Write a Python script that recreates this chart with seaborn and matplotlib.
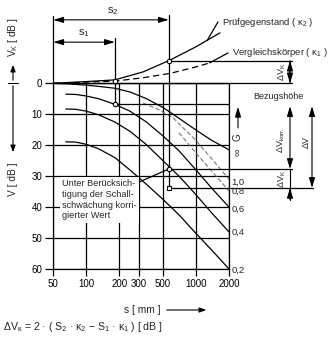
import numpy as np
import pandas as pd
import matplotlib
matplotlib.use("Agg")
import matplotlib.pyplot as plt
import seaborn as sns
from matplotlib.transforms import blended_transform_factory

# ---------------- data ----------------
x_ticks = [50, 100, 200, 300, 500, 1000, 2000]
y_ticks = [0, 10, 20, 30, 40, 50, 60]

# DGS curves V [dB] vs s [mm]
s_inf = [50, 70, 100, 130, 182, 250, 350, 500, 700, 1000, 1400, 2000]
v_inf = [0, 0.2, 0.6, 1.0, 1.6, 2.8, 4.9, 7.8, 11.3, 15.1, 18.5, 21.5]
s_g06 = [65, 80, 100, 130, 182, 250, 350, 500, 700, 1000, 1400, 2000]
v_g06 = [3.5, 3.6, 4.1, 5.0, 6.8, 9.0, 12.4, 17.0, 21.8, 28.0, 34.0, 40.0]
s_g04 = [65, 80, 100, 130, 182, 250, 350, 500, 700, 1000, 1400, 2000]
v_g04 = [8.3, 8.4, 9.0, 10.2, 12.5, 15.5, 19.7, 25.0, 30.0, 36.0, 42.0, 48.0]
s_g02 = [65, 80, 100, 130, 182, 250, 350, 500, 700, 1000, 1400, 2000]
v_g02 = [18.9, 19.0, 19.7, 21.2, 24.0, 28.0, 32.5, 37.5, 42.5, 48.5, 54.0, 60.0]
s_g10 = [330, 450, 620, 1000, 1400, 2000]
v_g10 = [6.4, 8.4, 11.2, 18.5, 24.5, 31.0]
s_g08 = [700, 1000, 1400, 2000]
v_g08 = [16.0, 22.5, 28.5, 34.8]

# transfer loss curves V_K (negative = upwards)
s_k2 = [50, 93, 182, 330, 580, 1000, 1655]
v_k2 = [0, -0.5, -1.1, -3.7, -7.5, -11.8, -16.3]
s_k1 = [50, 182, 330, 580, 1000, 1400]
v_k1 = [0, -0.7, -1.8, -3.2, -5.3, -6.8]

s1, s2 = 182, 564
v_ref = 6.8          # Bezugshöhe
v_k1_s1 = -0.7
v_k2_s2 = -7.3
v_korr = 27.7
v_meas = 33.8

g_labels = ["1,0", "0,8", "0,6", "0,4", "0,2"]
g_label_v = [31.9, 34.8, 40.6, 48.3, 60.3]

# ---------------- style ----------------
sns.set_theme(style="white")
plt.rcParams["font.family"] = ["Liberation Sans Narrow", "Liberation Sans", "DejaVu Sans"]
plt.rcParams["mathtext.fontset"] = "custom"
plt.rcParams["mathtext.rm"] = "Liberation Sans"
plt.rcParams["mathtext.it"] = "Liberation Sans"
plt.rcParams["mathtext.sf"] = "Liberation Sans"

W, H = 328, 348
fig = plt.figure(figsize=(W / 100, H / 100), dpi=100)
fig.patch.set_facecolor("white")
ax = fig.add_axes([53.3 / W, 1 - 269 / H, 175.7 / W, 185.7 / H])
ax.set_facecolor("white")

lw = 0.9
k = "black"

def curve(s, v, **kw):
    df = pd.DataFrame({"s": s, "v": v})
    sns.lineplot(data=df, x="s", y="v", ax=ax, estimator=None, sort=True,
                 clip_on=False, **kw)

curve(s_inf, v_inf, color=k, lw=lw)
curve(s_g06, v_g06, color=k, lw=lw)
curve(s_g04, v_g04, color=k, lw=lw)
curve(s_g02, v_g02, color=k, lw=lw)
curve(s_g10, v_g10, color="#777777", lw=0.8, linestyle=(0, (4, 2)))
curve(s_g08, v_g08, color="#777777", lw=0.8, linestyle=(0, (4, 2)))
curve(s_k2, v_k2, color=k, lw=lw)
curve(s_k1, v_k1, color=k, lw=lw, linestyle=(0, (5, 3)))

ax.set_xscale("log")
ax.set_xlim(50, 2000)
ax.set_ylim(60, 0)
ax.set_xticks(x_ticks)
ax.set_xticklabels([str(t) for t in x_ticks])
ax.xaxis.set_minor_locator(matplotlib.ticker.NullLocator())
ax.set_yticks(y_ticks)
ax.set_yticklabels([str(t) for t in y_ticks])
ax.set_xlabel("")
ax.set_ylabel("")
ax.grid(True, color=k, lw=lw)
for sp in ax.spines.values():
    sp.set_color(k)
    sp.set_linewidth(lw)
ax.tick_params(axis="x", length=5, width=lw, pad=2, labelsize=7, colors=k, direction="out", bottom=True)
ax.tick_params(axis="y", length=6, width=lw, pad=2, labelsize=7, colors=k, direction="out", left=True)

# --------- helpers ---------
bt = blended_transform_factory(ax.transAxes, ax.transData)
def fx(px):  # axes-fraction x from figure pixel
    return (px - 53.3) / 175.7
def fig_xy(px, py):
    return (px / W, 1 - py / H)

def line(xs, ys, tr=None, **kw):
    ax.plot(xs, ys, color=k, lw=lw, clip_on=False,
            transform=tr if tr is not None else ax.transData, **kw)

arrow_kw = dict(arrowstyle="-|>,head_length=0.5,head_width=0.15", color=k, lw=0.8,
                shrinkA=0, shrinkB=0)
arrow2_kw = dict(arrowstyle="<|-|>,head_length=0.5,head_width=0.15", color=k, lw=0.8,
                 shrinkA=0, shrinkB=0)

def arrow(p0, p1, tr, both=False):
    ax.annotate("", xy=p1, xytext=p0, xycoords=tr, textcoords=tr,
                arrowprops=arrow2_kw if both else arrow_kw, annotation_clip=False)

# extension of left axis upwards
line([50, 50], [-21.8, 0])
# s2 / s1 dimension lines
arrow((50, -20.5), (s2, -20.5), ax.transData, both=True)
arrow((50, -13.3), (s1, -13.3), ax.transData, both=True)
ax.text(175, -23.4, "s$_2$", ha="center", va="center", fontsize=8)
ax.text(95, -16.2, "s$_1$", ha="center", va="center", fontsize=8)
line([s2, s2], [-22.0, v_meas])
line([s1, s1], [-14.5, v_ref])

# horizontal reference lines
line([0, fx(292)], [0, 0], tr=bt)
line([s1, 2000], [v_ref, v_ref])
line([s2, 2000], [v_k2_s2, v_k2_s2])
ax.plot([1, fx(292)], [v_k2_s2, v_k2_s2], color=k, lw=lw, clip_on=False, transform=bt)
line([s2, 2000], [v_korr, v_korr])
ax.plot([1, fx(292)], [v_korr, v_korr], color=k, lw=lw, clip_on=False, transform=bt)
line([s2, 2000], [v_meas, v_meas])
ax.plot([1, fx(313)], [v_meas, v_meas], color=k, lw=lw, clip_on=False, transform=bt)

# markers
ax.plot([s1, s1, s2, s2], [v_k1_s1, v_ref, v_k2_s2, v_korr], "o", ms=3.2,
        mfc="white", mec=k, mew=0.8, clip_on=False, zorder=5)
ax.plot([s2], [v_meas], "s", ms=2.8, mfc="white", mec=k, mew=0.8, clip_on=False, zorder=5)

# curve labels (top)
line([1265, 1584], [-13.8, -19.8])
ax.text(1726, -19.8, "Prüfgegenstand ( κ$_2$ )", ha="left", va="center", fontsize=6.8)
line([1330, 1960], [-6.6, -9.8])
ax.text(2130, -9.8, "Vergleichskörper ( κ$_1$ )", ha="left", va="center", fontsize=6.8)

# right-hand annotations
arrow((fx(290), 0), (fx(290), v_k2_s2), bt)
arrow((fx(290), v_k2_s2), (fx(290), 0), bt)
ax.text(fx(282), -3.6, "ΔV$_K$", rotation=90, ha="center", va="center", fontsize=6.5, transform=bt)
ax.text(fx(278), 4.4, "Bezugshöhe", ha="center", va="center", fontsize=6.5, transform=bt)
arrow((fx(290), 7.4), (fx(290), v_korr), bt, both=True)
arrow((fx(312), 7.4), (fx(312), v_meas), bt, both=True)
ax.plot([fx(290), fx(290)], [v_korr, 37.6], color=k, lw=0.8, clip_on=False, transform=bt)
arrow((fx(290), 37.6), (fx(290), v_meas), bt)
ax.text(fx(281), 18.3, "ΔV$_{korr.}$", rotation=90, ha="center", va="center", fontsize=6.5, transform=bt)
ax.text(fx(306), 18.9, "ΔV", rotation=90, ha="center", va="center", fontsize=6.5, transform=bt)
ax.text(fx(282), 30.9, "ΔV$_K$", rotation=90, ha="center", va="center", fontsize=6.5, transform=bt)

# G axis
arrow((fx(238), 14.4), (fx(238), 7.6), bt)
ax.text(fx(238), 17.3, "G", rotation=90, ha="center", va="center", fontsize=7, transform=bt)
ax.text(fx(238), 22.3, "∞", rotation=90, ha="center", va="center", fontsize=7.5, transform=bt)
for lab, v in zip(g_labels, g_label_v):
    ax.text(fx(231.5), v, lab, ha="left", va="center", fontsize=6.8, transform=bt)

# note box
ax.text(60, 31.0, "Unter Berücksich-\ntigung der Schall-\nschwächung korri-\ngierter Wert",
        ha="left", va="top", fontsize=6.6, linespacing=1.25,
        bbox=dict(facecolor="white", edgecolor="none", pad=1.5), zorder=4)
line([290, s2], [32.2, v_korr])

# left axis labels / arrows (figure pixel layout)
ft = fig.transFigure
fig.text(*fig_xy(13, 37), "V$_K$ [ dB ]", rotation=90, ha="center", va="center", fontsize=7.3)
fig.text(*fig_xy(13, 179), "V [ dB ]", rotation=90, ha="center", va="center", fontsize=7.3)
fig.add_artist(matplotlib.patches.FancyArrowPatch(fig_xy(13, 83), fig_xy(13, 62), transform=ft,
               arrowstyle="-|>,head_length=4,head_width=1.5", color=k, lw=0.8))
fig.add_artist(matplotlib.patches.FancyArrowPatch(fig_xy(13, 83), fig_xy(13, 155), transform=ft,
               arrowstyle="-|>,head_length=4,head_width=1.5", color=k, lw=0.8))
fig.add_artist(matplotlib.lines.Line2D([8 / W, 18 / W], [1 - 83 / H, 1 - 83 / H], transform=ft, color=k, lw=0.8))

# x label with arrow
fig.text(*fig_xy(160, 310), "s [ mm ]", ha="right", va="center", fontsize=7.3)
fig.add_artist(matplotlib.patches.FancyArrowPatch(fig_xy(164, 310), fig_xy(209, 310), transform=ft,
               arrowstyle="-|>,head_length=4,head_width=1.5", color=k, lw=0.8))

# formula
fig.text(*fig_xy(3, 327), r"ΔV$_κ$ = 2 · ( S$_2$ · κ$_2$ − S$_1$ · κ$_1$ ) [ dB ]",
         ha="left", va="center", fontsize=7.6)

fig.savefig("out.png", dpi=100, facecolor="white")
